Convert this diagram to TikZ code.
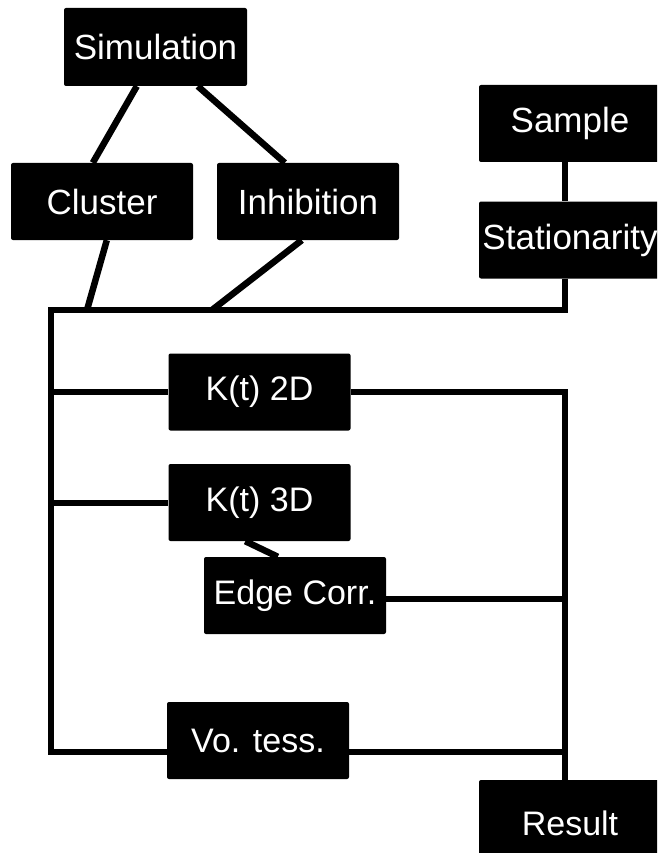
\documentclass[tikz,border=0pt]{standalone}
\usepackage{fontspec}
\setmainfont{Liberation Sans}
\usetikzlibrary{calc}

\tikzset{
  box/.style={fill=black, text=white, rounded corners=2pt, inner sep=0pt,
    minimum width=182pt, minimum height=77pt, font=\fontsize{34}{40}\selectfont},
  bigbox/.style={box, font=\fontsize{35}{40}\selectfont},
  wire/.style={line width=6.5pt, line join=miter, draw=black}
}

\begin{document}
\begin{tikzpicture}[x=1pt, y=-1pt]
  \fill[white] (0,0) rectangle (657,853);
  \useasboundingbox (0,0) rectangle (657,853);
  \clip (0,0) rectangle (657,853);

  % boxes
  \node[bigbox, minimum width=183pt, minimum height=78pt] (sim) at (155.5,47) {Simulation};
  \node[bigbox] (clu) at (102,201.5) {Cluster};
  \node[bigbox] (inh) at (308,201.5) {Inhibition};
  \node[bigbox] (sam) at (570,123.5) {Sample};
  \node[bigbox] (sta) at (570,240) {Stationarity};
  \node[box] (k2) at (259.5,392) {K(t) 2D};
  \node[box] (k3) at (259.5,502.5) {K(t) 3D};
  \node[box] (edge) at (295,595.5) {Edge Corr.};
  \node[box] (vo) at (258,740.5) {Vo. tess.};
  \node[box, minimum height=86pt] (res) at (570,823) {Result};

  % junction points on the rails
  \coordinate (lt) at (51,310);
  \coordinate (rt) at (565,310);
  \coordinate (bc) at (87,310);
  \coordinate (bi) at (212,310);
  \coordinate (l2) at (51,392);
  \coordinate (l3) at (51,503);
  \coordinate (lb) at (51,752);
  \coordinate (r2) at (565,392);
  \coordinate (re) at (565,599);
  \coordinate (rv) at (565,752);

  % upper tree
  \draw[wire] ([xshift=73pt]sim.south west) -- ([xshift=82pt]clu.north west);
  \draw[wire] ([xshift=134pt]sim.south west) -- ([xshift=68pt]inh.north west);
  \draw[wire] ([xshift=96pt]clu.south west) -- (bc);
  \draw[wire] ([xshift=85pt]inh.south west) -- (bi);
  \draw[wire] (sam.south -| rt) -- (sta.north -| rt);

  % left rail
  \draw[wire] (sta.south -| rt) -- (rt) -- (lt) -- (lb) -- (vo.west |- lb);
  \draw[wire] (l2) -- (k2.west |- l2);
  \draw[wire] (l3) -- (k3.west |- l3);

  % right rail
  \draw[wire] (k2.east |- r2) -- (r2) -- (res.north -| r2);
  \draw[wire] ([xshift=77pt]k3.south west) -- ([xshift=74pt]edge.north west);
  \draw[wire] (edge.east |- re) -- (re);
  \draw[wire] (vo.east |- rv) -- (rv);
\end{tikzpicture}
\end{document}
